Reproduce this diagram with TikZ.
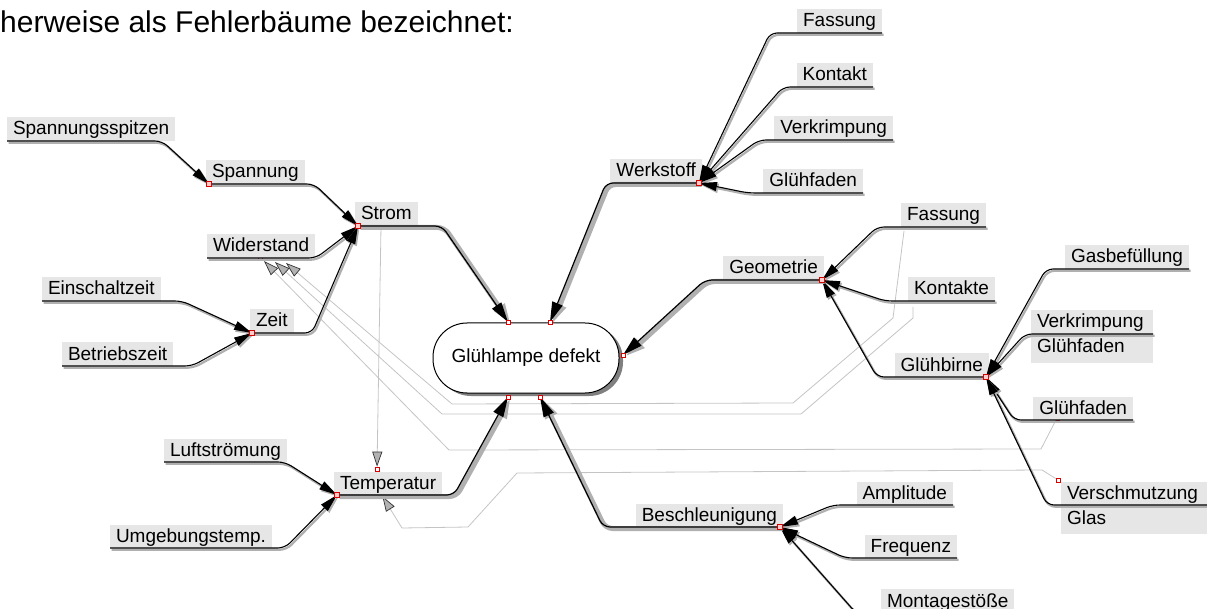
\documentclass[tikz,border=0pt]{standalone}
\usepackage{fontspec}
\setmainfont{Liberation Sans}
\usetikzlibrary{arrows.meta,shadows}
\definecolor{boxgray}{HTML}{E6E6E6}
\definecolor{shgray}{HTML}{B0B0B0}
\definecolor{helpgray}{HTML}{C4C4C4}
\definecolor{lampsh}{HTML}{808080}
\newcommand\lblfont{\fontsize{19}{22}\selectfont}
\tikzset{
  lbl/.style={fill=boxgray, inner xsep=6pt, inner ysep=0pt, text height=17.5pt, text depth=6pt, outer sep=0pt, font=\lblfont},
  lblL/.style={lbl, anchor=south west},
  lblR/.style={lbl, anchor=south east},
  conn/.style={line width=1.1pt, rounded corners=7pt, -{Triangle[length=18pt,width=9pt]},
    preaction={draw=shgray, line width=2.2pt, -{Triangle[length=18pt,width=9pt]}, transform canvas={shift={(1.5pt,-1.8pt)}}}},
  mainconn/.style={line width=1.2pt, rounded corners=7pt, -{Triangle[length=20pt,width=11pt]},
    preaction={draw=shgray, line width=5pt, -{Triangle[length=20pt,width=12pt]}, transform canvas={shift={(2.5pt,-1.5pt)}}}},
  helpline/.style={draw=helpgray, line width=0.8pt},
  helparr/.style={helpline, -{Triangle[length=15pt,width=10pt,fill=black!30,color=black!80,line width=0.7pt]}},
  rsq/.style={draw=red!85!black, fill=red!20, minimum size=5pt, inner sep=0pt, line width=0.8pt},
  rsqs/.style={draw=red!85!black, fill=white, minimum size=4pt, inner sep=0pt, line width=0.7pt},
}
\begin{document}
\begin{tikzpicture}[x=1pt,y=-1pt]
\useasboundingbox (0,0) rectangle (1207,609);
\clip (0,0) rectangle (1207,609);

% title text
\node[anchor=base west, inner sep=0pt, font=\fontsize{30}{34}\selectfont] (title) at (0,33) {herweise als Fehlerbäume bezeichnet:};

% anchor coordinates
\coordinate (spannA) at (209,184);
\coordinate (stromA) at (358,226);
\coordinate (zeitA) at (252,333);
\coordinate (tempA) at (337,495);
\coordinate (werkA) at (699,183);
\coordinate (geomA) at (822,280);
\coordinate (birneA) at (986,377);
\coordinate (beschA) at (780,527);
\coordinate (lt1) at (508,322);
\coordinate (lt2) at (550,322);
\coordinate (lr) at (623,355);
\coordinate (lb1) at (508,397);
\coordinate (lb2) at (540,397);
\coordinate (wa1) at (264,261);
\coordinate (wa2) at (275,262);
\coordinate (wa3) at (286,263);
\coordinate (g2s) at (904,231);
\coordinate (g3s) at (913,307);

% helper (gray) lines
\node[rsqs] (sqS2) at (381,226) {};
\node[rsqs] (sqT3) at (377,469) {};
\node[rsqs] (sqT2) at (381,494) {};
\node[rsqs] (sqW) at (260,258) {};
\node[rsqs] (sqGf) at (1057,418) {};
\node[rsqs] (sqVs) at (1058,480) {};
\draw[helparr] (sqS2) -- (sqT3);
\draw[helparr] (g2s) -- (893,318) -- (793,403) -- (452,404) -- (wa3);
\draw[helparr] (g3s) -- (913,318) -- (801,414) -- (442,414) -- (wa2);
\draw[helparr] (sqGf) -- (1041,449) -- (449,450) -- (wa1);
\draw[helparr] (sqVs) -- (1042,470) -- (517,473) -- (468,527) -- (402,528) -- (sqT2);

% label nodes, left part
\node[lblL] (spsp) at (7,141) {Spannungsspitzen};
\node[lblL] (spann) at (206,184) {Spannung};
\node[lblL] (strom) at (355,226) {Strom};
\node[lblL] (wider) at (207,258) {Widerstand};
\node[lblL] (einsch) at (42,301) {Einschaltzeit};
\node[lblL] (zeit) at (250,333) {Zeit};
\node[lblL] (betr) at (62,366) {Betriebszeit};
\node[lblL] (luft) at (164,462) {Luftströmung};
\node[lblL] (temp) at (334,495) {Temperatur};
\node[lblL] (umgeb) at (110,548) {Umgebungstemp.};

% label nodes, right part
\node[lblR] (werk) at (702,183) {Werkstoff};
\node[lblR] (fass1) at (882,33) {Fassung};
\node[lblR] (kont1) at (873,87) {Kontakt};
\node[lblR] (verk1) at (893,140) {Verkrimpung};
\node[lblR] (gluef1) at (863,193) {Glühfaden};
\node[lblR] (geom) at (824,280) {Geometrie};
\node[lblR] (fass2) at (986,227) {Fassung};
\node[lblR] (kont2) at (995,301) {Kontakte};
\node[lblR] (birne) at (989,377) {Glühbirne};
\node[lblR] (gas) at (1189,269) {Gasbefüllung};
\node[lblL, text width=110pt, align=left] (verk2) at (1031,334) {Verkrimpung};
\node[lbl, anchor=north west, text width=110pt, align=left, text height=19pt, text depth=10pt] (verk2b) at (1031,334) {Glühfaden};
\node[lblR] (gluef2) at (1133,420) {Glühfaden};
\node[lblL, text width=134pt, align=left] (versch) at (1061,505) {Verschmutzung};
\node[lbl, anchor=north west, text width=134pt, align=left, text height=19pt, text depth=10pt] (verschb) at (1061,505) {Glas};
\node[lblR] (besch) at (783,527) {Beschleunigung};
\node[lblR] (ampl) at (953,505) {Amplitude};
\node[lblR] (freq) at (957,558) {Frequenz};
\node[lbl, anchor=north west, text height=18pt] (mont) at (881,589) {Montagestöße};

% central node
\node[draw=black, line width=1pt, fill=white, rounded corners=34pt, minimum width=186pt, minimum height=70pt, font=\lblfont,
  drop shadow={shadow xshift=4pt, shadow yshift=-3pt, fill=lampsh, opacity=1}] (lampe) at (526,358) {Glühlampe defekt};

% connectors left
\draw[conn] (spsp.south west) -- (162,141) -- (spannA);
\draw[conn] (spannA) -- (314,184) -- (stromA);
\draw[conn] (wider.south west) -- (316,258) -- (stromA);
\draw[conn] (einsch.south west) -- (182,301) -- (zeitA);
\draw[conn] (betr.south west) -- (192,366) -- (zeitA);
\draw[conn] (zeitA) -- (312,333) -- (stromA);
\draw[conn] (luft.south west) -- (285,462) -- (tempA);
\draw[conn] (umgeb.south west) -- (285,548) -- (tempA);

% connectors right
\draw[conn] (fass1.south east) -- (770,33) -- (werkA);
\draw[conn] (kont1.south east) -- (783,87) -- (werkA);
\draw[conn] (verk1.south east) -- (759,140) -- (werkA);
\draw[conn] (gluef1.south east) -- (748,193) -- (werkA);
\draw[conn] (fass2.south east) -- (877,227) -- (geomA);
\draw[conn] (kont2.south east) -- (885,301) -- (geomA);
\draw[conn] (birneA) -- (877,377) -- (geomA);
\draw[conn] (gas.south east) -- (1046,269) -- (birneA);
\draw[conn] (verk2.south east) -- (1025,334) -- (birneA);
\draw[conn] (gluef2.south east) -- (1014,420) -- (birneA);
\draw[conn] (versch.south east) -- (1047,505) -- (birneA);
\draw[conn] (ampl.south east) -- (833,505) -- (beschA);
\draw[conn] (freq.south east) -- (845,558) -- (beschA);
\draw[conn] (mont.south east) -- (856,613) -- (beschA);

% main connectors into the central node
\draw[mainconn] (stromA) -- (442,226) -- (lt1);
\draw[mainconn] (werkA) -- (606,183) -- (lt2);
\draw[mainconn] (geomA) -- (705,280) -- (lr);
\draw[mainconn] (tempA) -- (454,495) -- (lb1);
\draw[mainconn] (beschA) -- (603,527) -- (lb2);

% red anchor squares
\node[rsq] (sqSp) at (spannA) {};
\node[rsq] (sqSt) at (stromA) {};
\node[rsq] (sqZ) at (zeitA) {};
\node[rsq] (sqT) at (tempA) {};
\node[rsq] (sqWe) at (werkA) {};
\node[rsq] (sqGe) at (geomA) {};
\node[rsq] (sqGb) at (birneA) {};
\node[rsq] (sqBe) at (beschA) {};
\node[rsqs] (sqL1) at (lt1) {};
\node[rsqs] (sqL2) at (lt2) {};
\node[rsqs] (sqL3) at (lr) {};
\node[rsqs] (sqL4) at (lb1) {};
\node[rsqs] (sqL5) at (lb2) {};
\end{tikzpicture}
\end{document}
